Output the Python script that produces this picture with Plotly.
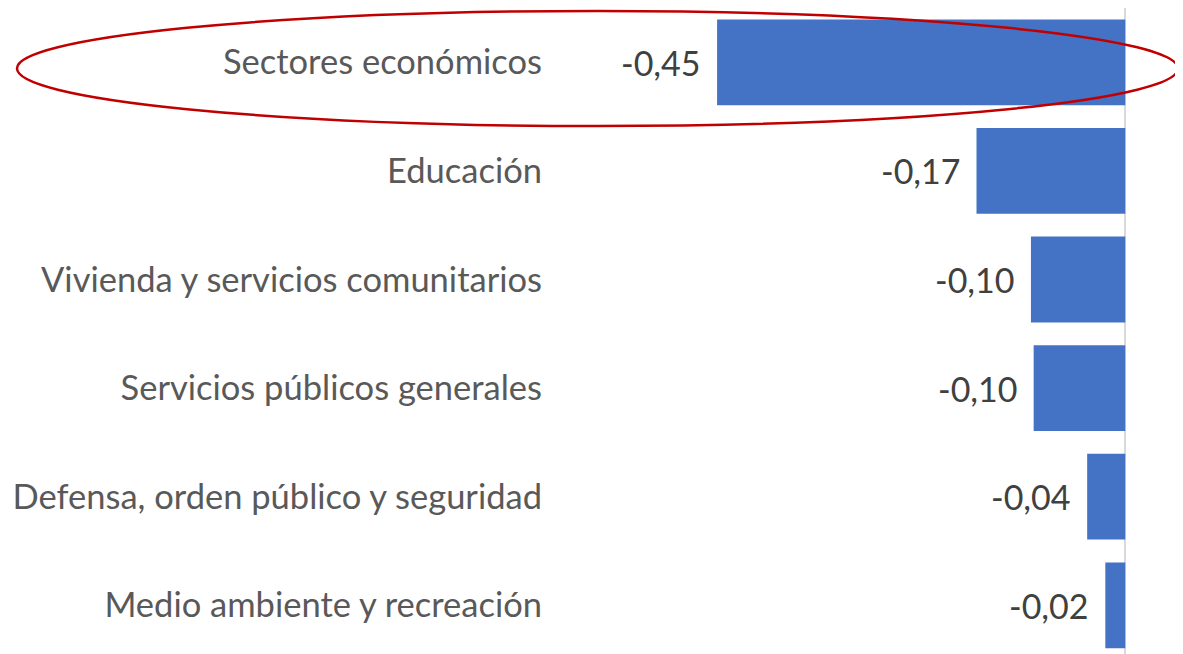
import plotly.graph_objects as go

categories = ["Sectores económicos", "Educación", "Vivienda y servicios comunitarios",
              "Servicios públicos generales", "Defensa, orden público y seguridad",
              "Medio ambiente y recreación"]
values = [-0.45, -0.164, -0.104, -0.101, -0.042, -0.022]
value_labels = ["-0,45", "-0,17", "-0,10", "-0,10", "-0,04", "-0,02"]

W, H = 1183, 654
ML, MR, MT, MB = 535, 63, 0, 0
OFF = 8  # page body margin
pos = list(range(len(categories)))

fig = go.Figure()
fig.add_trace(go.Bar(
    x=values, y=pos, orientation="h",
    marker=dict(color="#4472C4", line=dict(width=0)),
    width=0.79, hoverinfo="skip",
))

for p, v, t in zip(pos, values, value_labels):
    fig.add_annotation(x=v, y=p, text=t, showarrow=False, xanchor="right",
                       yanchor="middle", xshift=-14,
                       font=dict(family="Lato", size=34, color="#404040"))

def px_x(px):
    return (px - OFF - ML) / (W - ML - MR)

def px_y(py):
    return (H - MB - (py - OFF)) / (H - MT - MB)

fig.add_shape(type="circle", xref="paper", yref="paper",
              x0=px_x(17), x1=px_x(1178), y0=px_y(126), y1=px_y(11),
              line=dict(color="#C00000", width=2.5))

fig.update_layout(
    width=W, height=H,
    margin=dict(l=ML, r=MR, t=MT, b=MB),
    paper_bgcolor="white", plot_bgcolor="white",
    showlegend=False,
    xaxis=dict(range=[-0.6419, 0.003], showgrid=False, showticklabels=False,
               zeroline=True, zerolinecolor="#D9D9D9", zerolinewidth=2,
               showline=False, fixedrange=True),
    yaxis=dict(range=[5.522, -0.5], tickvals=pos, ticktext=categories,
               showgrid=False, zeroline=False, ticks="", showline=False,
               tickfont=dict(family="Lato", size=34.5, color="#595959")),
)

fig.write_html("out.html")
